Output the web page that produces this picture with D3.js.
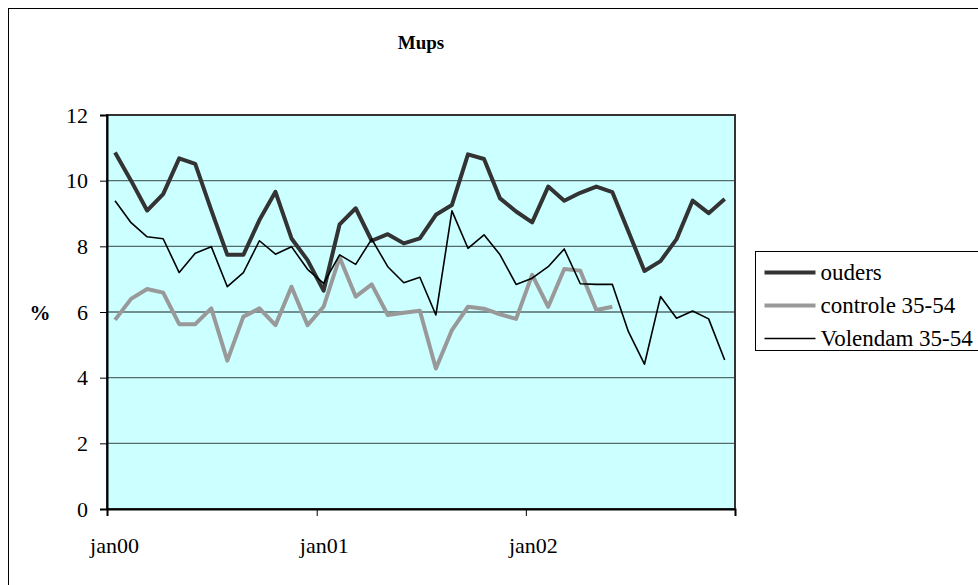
<!DOCTYPE html>
<html>
<head>
<meta charset="utf-8">
<script src="https://cdnjs.cloudflare.com/ajax/libs/d3/7.8.5/d3.min.js"></script>
<style>
body { margin: 0; background: #fff; }
text { font-family: "Liberation Serif", "Times New Roman", serif; }
</style>
</head>
<body>
<div id="container"></div>
<script>
// 4-week periods, 13 per year
var periods = ["2000-01-15","2000-02-12","2000-03-11","2000-04-08","2000-05-06","2000-06-03","2000-07-01",
	"2000-07-29","2000-08-26","2000-09-23","2000-10-21","2000-11-18","2000-12-16",
	"2001-01-13","2001-02-10","2001-03-10","2001-04-07","2001-05-05","2001-06-02","2001-06-30",
	"2001-07-28","2001-08-25","2001-09-22","2001-10-20","2001-11-17","2001-12-15",
	"2002-01-12","2002-02-09","2002-03-09","2002-04-06","2002-05-04","2002-06-01","2002-06-29",
	"2002-07-27","2002-08-24","2002-09-21","2002-10-19","2002-11-16","2002-12-14"];

var ouders = [10.86,10.0,9.09,9.59,10.68,10.51,9.1,7.74,7.74,8.8,9.66,8.24,7.58,
	6.65,8.67,9.16,8.17,8.37,8.09,8.24,8.96,9.26,10.8,10.66,9.46,9.06,
	8.73,9.82,9.39,9.63,9.82,9.65,8.45,7.25,7.55,8.22,9.39,9.01,9.44];
var controle = [5.76,6.4,6.7,6.59,5.63,5.63,6.11,4.52,5.86,6.11,5.6,6.77,5.6,
	6.16,7.66,6.47,6.84,5.91,5.98,6.04,4.28,5.45,6.16,6.1,5.93,5.79,
	7.13,6.16,7.31,7.26,6.06,6.16];
var volendam = [9.39,8.72,8.29,8.23,7.2,7.79,7.99,6.77,7.2,8.17,7.76,7.99,7.3,
	6.87,7.74,7.45,8.22,7.38,6.89,7.06,5.91,9.08,7.94,8.35,7.74,6.84,
	7.03,7.38,7.92,6.86,6.84,6.84,5.4,4.41,6.47,5.81,6.03,5.79,4.54];

var yTicks = [0,2,4,6,8,10,12];
var xTicks = ["2000-01-01","2001-01-01","2002-01-01","2003-01-01"];
var xTickLabels = ["jan00","jan01","jan02",""];

var series = [
	{name:"ouders", values:ouders, color:"#333333", width:4},
	{name:"controle 35-54", values:controle, color:"#999999", width:4},
	{name:"Volendam 35-54", values:volendam, color:"#000000", width:1.6}
];

var width = 978, height = 585;
var plot = {left:107, top:115, right:735, bottom:509};
var parse = d3.timeParse("%Y-%m-%d");

var svg = d3.select("#container").append("svg")
	.attr("width", width)
	.attr("height", height);

// outer chart frame
svg.append("rect")
	.attr("x", 8.5).attr("y", 8.5)
	.attr("width", 990).attr("height", 600)
	.style("fill","none").style("stroke","#000").style("stroke-width",1);

var x = d3.scaleTime().domain([parse(xTicks[0]), parse(xTicks[3])]).range([plot.left, plot.right]);
var y = d3.scaleLinear().domain([0, 12]).range([plot.bottom, plot.top]);

svg.append("rect")
	.attr("x", plot.left).attr("y", plot.top)
	.attr("width", plot.right-plot.left).attr("height", plot.bottom-plot.top)
	.style("fill","#ccffff");

// gridlines
svg.append("g").selectAll("line").data(yTicks.slice(1,-1)).enter()
	.append("line")
	.attr("x1", plot.left).attr("x2", plot.right)
	.attr("y1", function(d){return y(d)}).attr("y2", function(d){return y(d)})
	.style("stroke","#556b6b").style("stroke-width",1.3);

// plot border
svg.append("rect")
	.attr("x", plot.left).attr("y", plot.top)
	.attr("width", plot.right-plot.left).attr("height", plot.bottom-plot.top)
	.style("fill","none").style("stroke","#333").style("stroke-width",2);

var yAxis = d3.axisLeft(y).tickValues(yTicks).tickSize(7).tickPadding(12).tickFormat(d3.format("d"));
var gy = svg.append("g")
	.attr("transform","translate(" + plot.left + ",0)")
	.call(yAxis);
gy.select(".domain").style("stroke","#000").style("stroke-width",2);
gy.selectAll(".tick line").style("stroke","#000");
gy.selectAll("text").style("font-size","22px").style("fill","#000");

var xAxis = d3.axisBottom(x).tickValues(xTicks.map(parse)).tickSize(7)
	.tickFormat(function(d,i){return xTickLabels[i]});
var gx = svg.append("g")
	.attr("transform","translate(0," + plot.bottom + ")")
	.call(xAxis);
gx.select(".domain").style("stroke","#000").style("stroke-width",2);
gx.selectAll(".tick line").style("stroke","#000");
gx.selectAll("text")
	.attr("x", 7).attr("y", 28)
	.style("font-size","22px").style("fill","#000");

var line = d3.line()
	.x(function(d,i){return x(parse(periods[i]))})
	.y(function(d){return y(d)});

series.forEach(function(s){
	svg.append("path")
		.datum(s.values)
		.attr("d", line)
		.style("fill","none")
		.style("stroke", s.color)
		.style("stroke-width", s.width)
		.style("stroke-linejoin","round");
});

svg.append("text")
	.attr("x", 421).attr("y", 49)
	.style("text-anchor","middle")
	.style("font-size","19px").style("font-weight","bold")
	.text("Mups");

svg.append("text")
	.attr("x", 40).attr("y", 320)
	.style("text-anchor","middle")
	.style("font-size","21px").style("font-weight","bold")
	.text("%");

// legend
var legend = svg.append("g").attr("transform","translate(755.5,251.5)");
legend.append("rect")
	.attr("width", 240).attr("height", 99)
	.style("fill","#fff").style("stroke","#000").style("stroke-width",1);
var items = legend.selectAll(".item").data(series).enter()
	.append("g")
	.attr("transform", function(d,i){return "translate(0," + (21 + i*33) + ")"});
items.append("line")
	.attr("x1", 9).attr("x2", 60)
	.style("stroke", function(d){return d.color})
	.style("stroke-width", function(d){return d.width});
items.append("text")
	.attr("x", 65).attr("y", 7)
	.style("font-size","23px")
	.text(function(d){return d.name});
</script>
</body>
</html>
